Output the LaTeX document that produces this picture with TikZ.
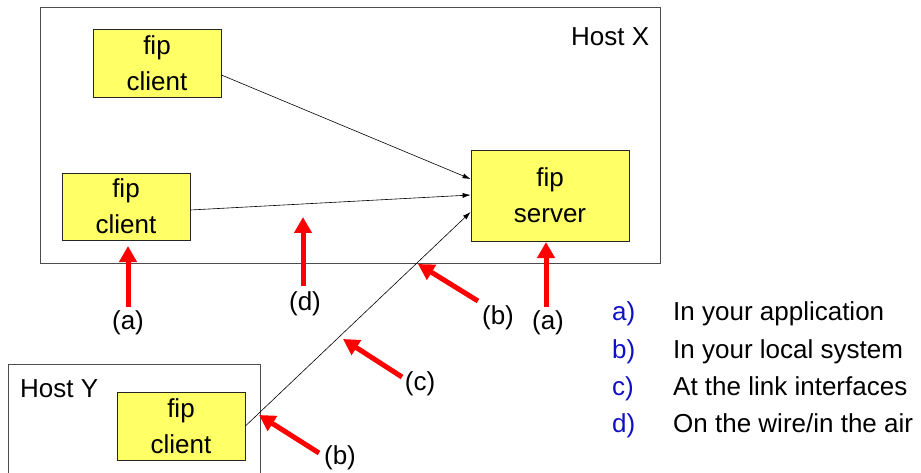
\documentclass[tikz,border=0pt]{standalone}
\usepackage{fontspec}
\setmainfont{Liberation Sans}
\usetikzlibrary{arrows.meta}
\definecolor{boxyellow}{HTML}{FFFF66}
\definecolor{legblue}{HTML}{1010C8}
\begin{document}
\begin{tikzpicture}[x=1pt,y=-1pt,
  every node/.style={font=\fontsize{26}{36}\selectfont, inner sep=0pt},
  hostbox/.style={draw=black!70, line width=0.8pt},
  fipbox/.style={draw=black!85, fill=boxyellow, line width=0.8pt, align=center},
  flow/.style={draw=black, line width=0.6pt, -{Latex[length=8pt,width=5pt]}},
  redarrow/.style={draw=red, line width=5pt, -{Triangle[length=16pt,width=17pt]}},
  legletter/.style={anchor=base west, text=legblue},
  legtext/.style={anchor=base west}]
\useasboundingbox (0,0) rectangle (921,473);
\begin{scope}
\clip (0,0) rectangle (921,473);
% hosts
\node[hostbox, minimum width=620pt, minimum height=256pt] (hx) at (350,135) {};
\node[hostbox, minimum width=252pt, minimum height=130pt] (hy) at (134,429) {};
\end{scope}
\node[anchor=base west] (hxl) at (571,46) {Host X};
\node[anchor=base west] (hyl) at (20,397) {Host Y};
% fip boxes
\node[fipbox, minimum width=128pt, minimum height=68pt] (c1) at (157,63) {fip\\client};
\node[fipbox, minimum width=128pt, minimum height=67pt] (c2) at (126,206.5) {fip\\client};
\node[fipbox, minimum width=158pt, minimum height=91pt] (srv) at (550,195.5) {fip\\server};
\node[fipbox, minimum width=128pt, minimum height=68pt] (cy) at (181,426) {fip\\client};
% flows
\draw[flow] ([yshift=-12pt]c1.east) -- ([yshift=16.5pt]srv.west);
\draw[flow] ([yshift=-3.5pt]c2.east) -- ([yshift=0.5pt]srv.west);
\draw[flow] (cy.east) -- ([yshift=-16.5pt]srv.west);
% red markers
\coordinate (a1t) at (128,307); \coordinate (a1h) at (128,246);
\coordinate (dt) at (303,286);  \coordinate (dh) at (303,217);
\coordinate (b1t) at (478,301); \coordinate (b1h) at (418,264);
\coordinate (a2t) at (546,307); \coordinate (a2h) at (546,242);
\coordinate (ct) at (402,377);  \coordinate (ch) at (343,339);
\coordinate (b2t) at (319,453); \coordinate (b2h) at (259,415);
\draw[redarrow] (a1t) -- (a1h);
\draw[redarrow] (dt) -- (dh);
\draw[redarrow] (b1t) -- (b1h);
\draw[redarrow] (a2t) -- (a2h);
\draw[redarrow] (ct) -- (ch);
\draw[redarrow] (b2t) -- (b2h);
\node (la1) at (128,323) {(a)};
\node (ld) at (305,304) {(d)};
\node (lb1) at (498,318) {(b)};
\node (la2) at (548,323) {(a)};
\node (lc) at (420,384) {(c)};
\node (lb2) at (340,458) {(b)};
% legend
\node[legletter] (ka) at (612,320.5) {a)};
\node[legtext] (ta) at (673,320.5) {In your application};
\node[legletter] (kb) at (612,358) {b)};
\node[legtext] (tb) at (673,358) {In your local system};
\node[legletter] (kc) at (612,395.5) {c)};
\node[legtext] (tc) at (673,395.5) {At the link interfaces};
\node[legletter] (kd) at (612,432.5) {d)};
\node[legtext] (td) at (673,432.5) {On the wire/in the air};
\end{tikzpicture}
\end{document}
